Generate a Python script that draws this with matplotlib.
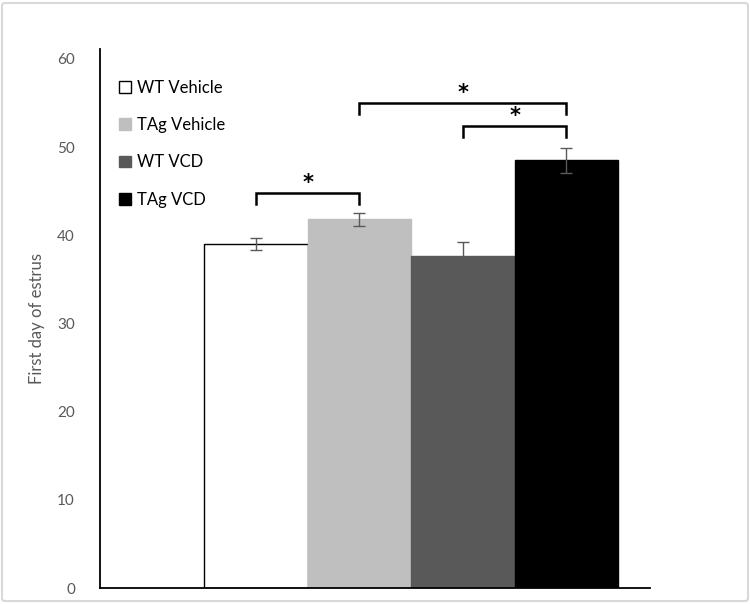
import matplotlib
matplotlib.use("Agg")
import matplotlib.pyplot as plt
from matplotlib.patches import Patch, FancyBboxPatch

plt.rcParams['font.family'] = ['Lato', 'DejaVu Sans']

groups = ["WT Vehicle", "TAg Vehicle", "WT VCD", "TAg VCD"]
values = [39.0, 41.8, 37.6, 48.5]
errors = [0.65, 0.7, 1.6, 1.4]
colors = ["#ffffff", "#bfbfbf", "#595959", "#000000"]
edges = ["#000000", "#bfbfbf", "#595959", "#000000"]

# significance brackets: (left bar, right bar, height)
brackets = [(0, 1, 44.8), (1, 3, 55.0), (2, 3, 52.4)]
drop = 1.2

fig = plt.figure(figsize=(7.5, 6.04), dpi=100)
ax = fig.add_axes([100/750, 16/604, 550/750, 539/604])

x = list(range(len(groups)))
ax.bar(x, values, width=1.0, color=colors, edgecolor=edges, linewidth=1.0, zorder=2)
ax.errorbar(x, values, yerr=errors, fmt='none', ecolor='#595959',
            elinewidth=1.0, capsize=4, capthick=1.0, zorder=3)

for a, b, h in brackets:
    ax.plot([a, a, b, b], [h - drop, h, h, h - drop], color='black', lw=1.8,
            solid_joinstyle='miter', zorder=4)
    ax.text((a + b) / 2, h + 1.1, "*", ha='center', va='center',
            fontsize=15, fontweight='bold', color='black', family='DejaVu Sans')

ax.set_xlim(-1.51, 3.81)
ax.set_ylim(0, 61.13)
ax.set_yticks([0, 10, 20, 30, 40, 50, 60])
ax.set_xticks([])
ax.tick_params(axis='y', length=0, pad=18, labelsize=11, labelcolor='#595959')
for s in ['top', 'right']:
    ax.spines[s].set_visible(False)
for s in ['left', 'bottom']:
    ax.spines[s].set_color('black')
    ax.spines[s].set_linewidth(1.3)
ax.set_ylabel("First day of estrus", fontsize=12, color='#595959', labelpad=9)

handles = [Patch(facecolor=c, edgecolor=('black' if i == 0 else c), linewidth=1.0)
           for i, c in enumerate(colors)]
leg = ax.legend(handles, groups, loc='upper left',
                bbox_to_anchor=(119/750, 1 - 80/604), bbox_transform=fig.transFigure,
                frameon=False, fontsize=12,
                handlelength=0.72, handleheight=0.72, handletextpad=0.35,
                labelspacing=1.27, borderaxespad=0, borderpad=0)

border = FancyBboxPatch((2/750, 3/604), 746/750, 598/604, boxstyle="round,pad=0,rounding_size=0.004",
                        transform=fig.transFigure, fill=False, edgecolor='#d9d9d9', linewidth=1.5)
fig.patches.append(border)

fig.savefig("out.png", dpi=100)
